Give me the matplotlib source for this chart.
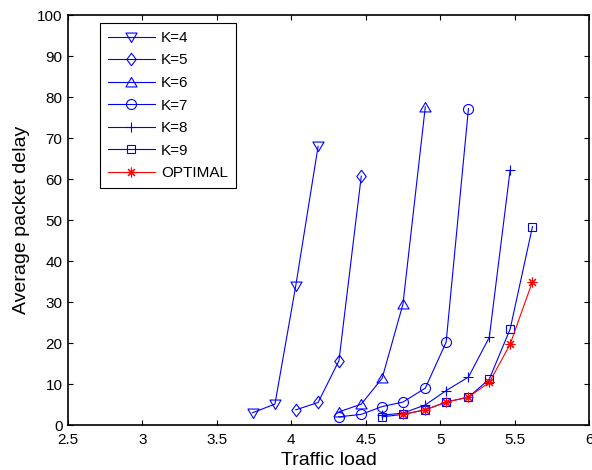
import matplotlib
matplotlib.use("Agg")
import matplotlib.pyplot as plt
import numpy as np
from matplotlib.path import Path

# Traffic load values for each curve
load_k4 = [3.74, 3.89, 4.03, 4.18]
load_k5 = [4.03, 4.18, 4.32, 4.47]
load_k6 = [4.32, 4.47, 4.61, 4.75, 4.90]
load_k7 = [4.32, 4.47, 4.61, 4.75, 4.90, 5.04, 5.19]
load_k8 = [4.61, 4.75, 4.90, 5.04, 5.19, 5.33, 5.47]
load_k9 = [4.61, 4.75, 4.90, 5.04, 5.19, 5.33, 5.47, 5.62]
load_opt = [4.75, 4.90, 5.04, 5.19, 5.33, 5.47, 5.62]

# Average packet delay
delay_k4 = [3.0, 5.1, 34.0, 68.0]
delay_k5 = [3.7, 5.5, 15.7, 60.7]
delay_k6 = [3.2, 5.1, 11.4, 29.5, 77.6]
delay_k7 = [2.0, 2.6, 4.5, 5.6, 9.0, 20.2, 77.2]
delay_k8 = [2.4, 2.9, 4.9, 8.4, 11.7, 21.4, 62.2]
delay_k9 = [2.0, 2.6, 3.7, 5.6, 6.8, 11.2, 23.4, 48.4]
delay_opt = [2.6, 3.7, 5.6, 6.8, 10.4, 19.7, 35.0]

labels = ["K=4", "K=5", "K=6", "K=7", "K=8", "K=9", "OPTIMAL"]
xticks = [2.5, 3, 3.5, 4, 4.5, 5, 5.5, 6]
xticklabels = ["2.5", "3", "3.5", "4", "4.5", "5", "5.5", "6"]
yticks = list(range(0, 101, 10))

plt.rcParams["font.family"] = ["Liberation Sans", "DejaVu Sans"]

# Marker shapes in the style of MATLAB
tri_down = Path([(-1, 0.8), (1, 0.8), (0, -0.9), (-1, 0.8)],
                [Path.MOVETO, Path.LINETO, Path.LINETO, Path.CLOSEPOLY])
tri_up = Path([(-1, -0.8), (1, -0.8), (0, 0.9), (-1, -0.8)],
              [Path.MOVETO, Path.LINETO, Path.LINETO, Path.CLOSEPOLY])
diamond = Path([(0, 1), (0.75, 0), (0, -1), (-0.75, 0), (0, 1)],
               [Path.MOVETO, Path.LINETO, Path.LINETO, Path.LINETO, Path.CLOSEPOLY])

fig = plt.figure(figsize=(5.92, 4.70), dpi=100)
ax = fig.add_axes([0.1149, 0.0957, 0.8801, 0.8723])

blue = "#0000ff"
red = "#ff0000"
lw = 0.8
series = [
    (load_k4, delay_k4, tri_down, 8.0, blue),
    (load_k5, delay_k5, diamond, 9.0, blue),
    (load_k6, delay_k6, tri_up, 8.0, blue),
    (load_k7, delay_k7, "o", 7.2, blue),
    (load_k8, delay_k8, "+", 7.5, blue),
    (load_k9, delay_k9, "s", 6.2, blue),
    (load_opt, delay_opt, (8, 2, 0), 7.0, red),
]
for (x, y, m, ms, c), lab in zip(series, labels):
    ax.plot(x, y, color=c, lw=lw, marker=m, markersize=ms,
            markerfacecolor="none", markeredgecolor=c, markeredgewidth=0.8,
            label=lab)

ax.set_xlim(2.5, 6)
ax.set_ylim(0, 100)
ax.set_xticks(xticks)
ax.set_xticklabels(xticklabels)
ax.set_yticks(yticks)
ax.tick_params(direction="in", length=3.6, width=0.8, labelsize=11,
               top=True, right=True, colors="black")
ax.tick_params(axis="x", pad=6)
ax.tick_params(axis="y", pad=4)
for s in ax.spines.values():
    s.set_linewidth(1.2)

ax.set_xlabel("Traffic load", fontsize=14, labelpad=3)
ax.set_ylabel("Average packet delay", fontsize=14, labelpad=5)

leg = ax.legend(loc="upper left", bbox_to_anchor=(0.0614, 0.98),
                borderaxespad=0, fontsize=11, handlelength=3.1,
                handletextpad=0.4, labelspacing=0.56, borderpad=0.5,
                fancybox=False, frameon=True, edgecolor="black",
                framealpha=1)
leg.get_frame().set_linewidth(0.8)

fig.savefig("out.png", dpi=100)
